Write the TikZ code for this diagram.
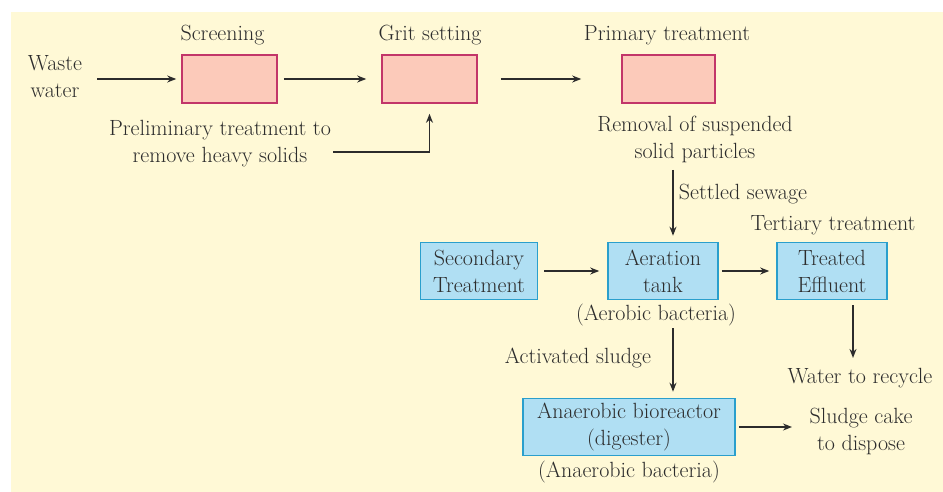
\documentclass[tikz,border=0pt]{standalone}
\usetikzlibrary{arrows.meta}
\definecolor{cream}{HTML}{FFF9D6}
\definecolor{pinkfill}{HTML}{FCCABA}
\definecolor{pinkdraw}{HTML}{C23669}
\definecolor{bluefill}{HTML}{B0DFF3}
\definecolor{bluedraw}{HTML}{2A9FCC}
\definecolor{txt}{HTML}{2C2C2C}
\begin{document}
\begin{tikzpicture}[x=1pt,y=-1pt,
  lbl/.style={text=txt,font=\fontsize{22}{27}\selectfont,align=center,inner sep=0pt},
  pinkbox/.style={draw=pinkdraw,fill=pinkfill,line width=1.6pt,inner sep=0pt},
  bluebox/.style={draw=bluedraw,fill=bluefill,line width=1.6pt,inner sep=0pt,
    text=txt,font=\fontsize{22}{27}\selectfont,align=center},
  arr/.style={draw=txt,line width=1.4pt,-{Stealth[length=9pt,width=7pt]}}]
\useasboundingbox (0,0) rectangle (943,492);
\path[fill=white] (0,0) rectangle (943,492);
\path[fill=cream] (11,12) rectangle (943,492);

% pink boxes
\node[pinkbox,minimum width=95pt,minimum height=48pt] (screen) at (229.5,79) {};
\node[pinkbox,minimum width=95pt,minimum height=48pt] (grit) at (429.5,79) {};
\node[pinkbox,minimum width=93pt,minimum height=48pt] (primary) at (668.5,79) {};

% blue boxes
\node[bluebox,minimum width=117pt,minimum height=57pt] (secondary) at (479,271) {Secondary\\Treatment};
\node[bluebox,minimum width=110pt,minimum height=57pt] (aeration) at (663,271) {Aeration\\tank};
\node[bluebox,minimum width=110pt,minimum height=57pt] (effluent) at (832,271) {Treated\\Effluent};
\node[bluebox,minimum width=212pt,minimum height=57pt] (bio) at (629,427) {Anaerobic bioreactor\\(digester)};

% labels
\node[lbl] (waste) at (55,77) {Waste\\water};
\node[lbl] (screenlbl) at (222.5,35) {Screening};
\node[lbl] (gritlbl) at (430,35) {Grit setting};
\node[lbl] (primarylbl) at (667,35) {Primary treatment};
\node[lbl] (prelim) at (220,144) {Preliminary treatment to\\remove heavy solids};
\node[lbl] (removal) at (695,139) {Removal of suspended\\solid particles};
\node[lbl] (settled) at (743,194) {Settled sewage};
\node[lbl] (tertiary) at (833,225) {Tertiary treatment};
\node[lbl] (aerobic) at (656,315) {(Aerobic bacteria)};
\node[lbl] (activated) at (578,358) {Activated sludge};
\node[lbl] (water) at (860,378) {Water to recycle};
\node[lbl] (sludge) at (861,431) {Sludge cake\\to dispose};
\node[lbl] (anaerobic) at (629,472) {(Anaerobic bacteria)};

% free ends
\coordinate (wstart) at (97,79);
\coordinate (pstart) at (333,152);
\coordinate (sstart) at (673,170);
\coordinate (astart) at (673,328);
\coordinate (estart) at (853,305);
\coordinate (bend) at (792,427);

% connectors
\draw[arr,shorten >=5pt] (wstart) -- (screen.west);
\draw[arr,shorten <=6pt,shorten >=15pt] (screen.east) -- (grit.west);
\draw[arr,shorten <=23pt,shorten >=40pt] (grit.east) -- (primary.west);
\draw[arr,shorten >=10pt] (pstart) -| (grit.south);
\draw[arr,shorten >=6pt] (sstart) -- (sstart |- aeration.north);
\draw[arr,shorten <=6pt,shorten >=8pt] (secondary.east) -- (aeration.west);
\draw[arr,shorten <=3pt,shorten >=7pt] (aeration.east) -- (effluent.west);
\draw[arr,shorten >=10pt] (estart) -- (estart |- water.north);
\draw[arr,shorten >=6pt] (astart) -- (astart |- bio.north);
\draw[arr,shorten <=3pt] (bio.east) -- (bend);
\end{tikzpicture}
\end{document}
